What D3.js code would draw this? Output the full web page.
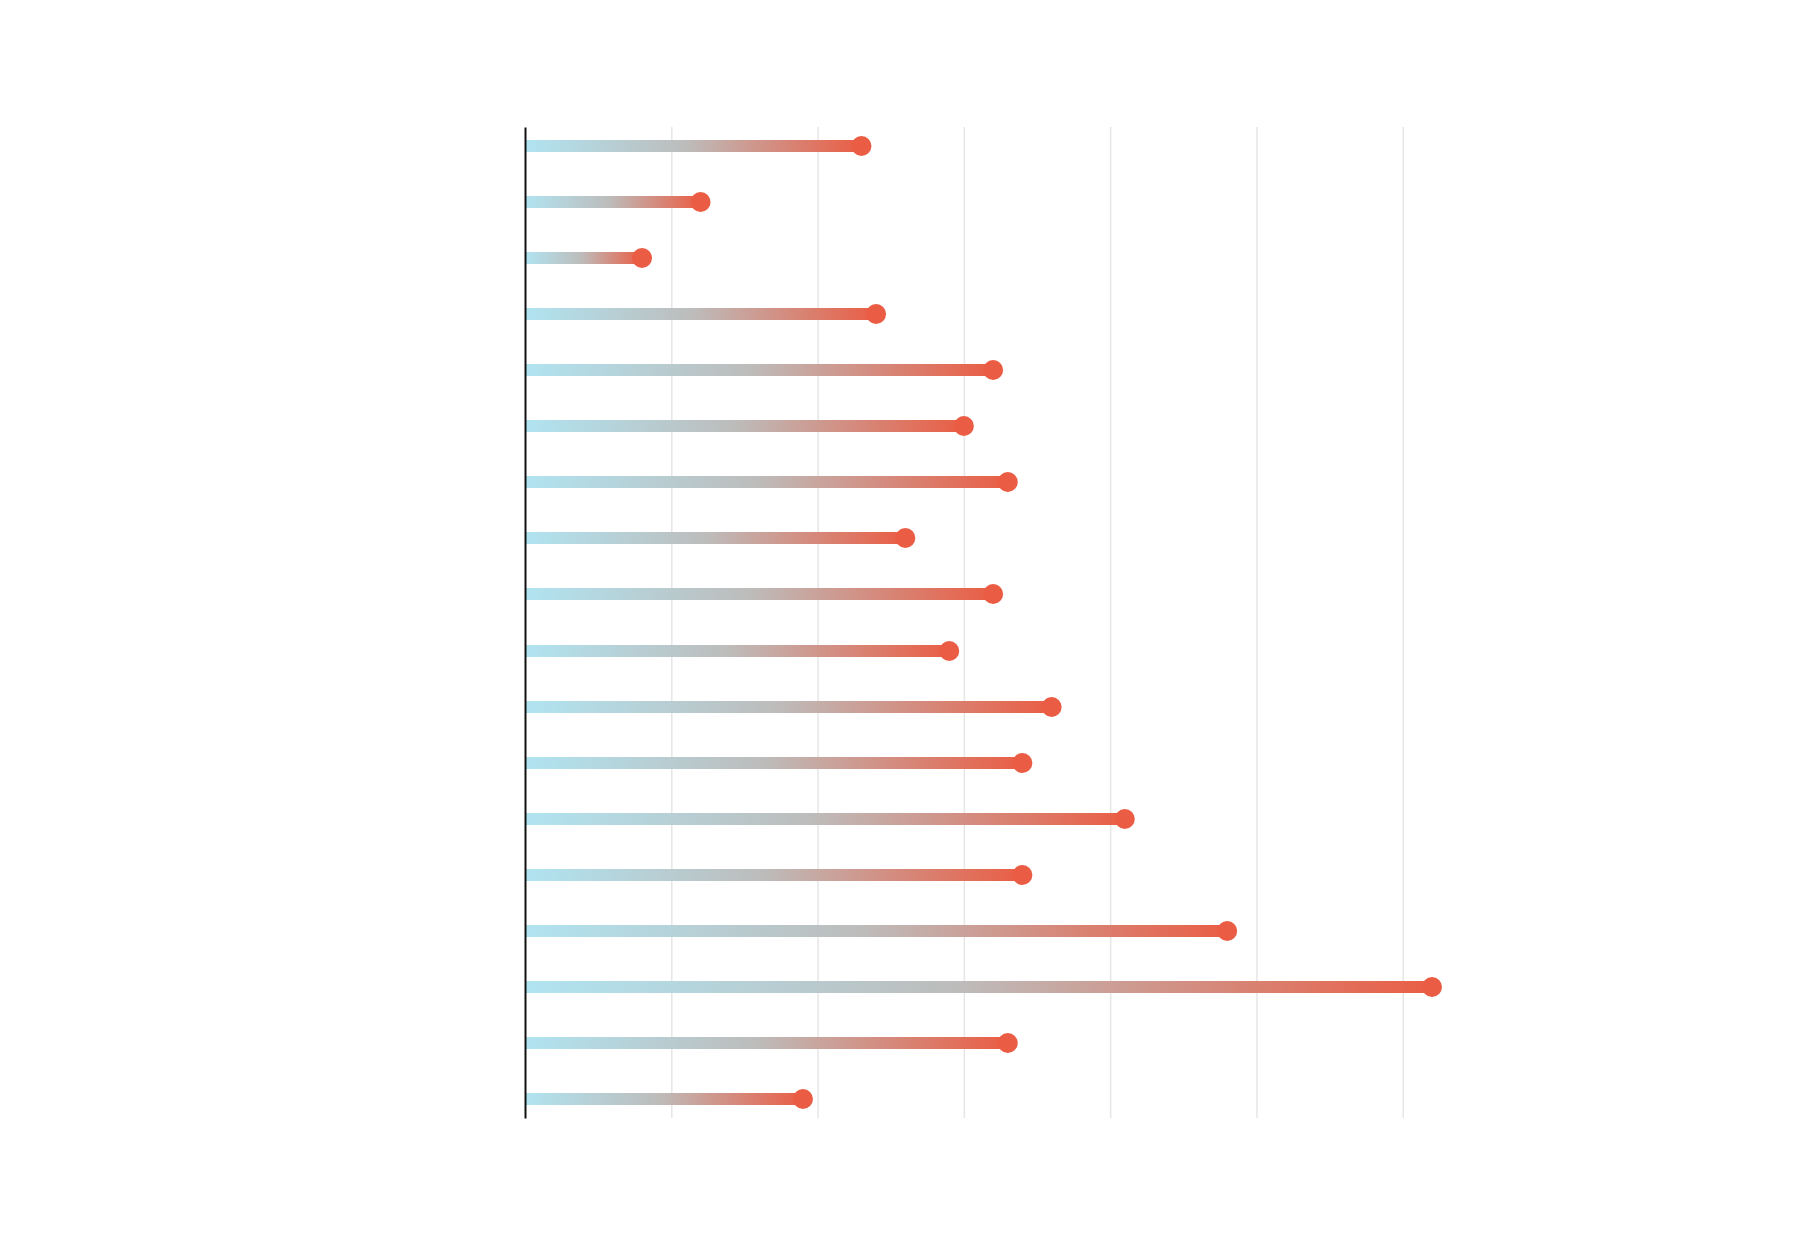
<!DOCTYPE html>
<html>
<head>
<meta charset="utf-8">
<script src="https://cdn.jsdelivr.net/npm/d3@7"></script>
<style>
  body { margin: 0; background: #fff; }
  svg { display: block; }
</style>
</head>
<body>
<div id="chart"></div>
<script>
// data (no labels are shown in it)
const categories = ["c1", "c2", "c3", "c4", "c5", "c6", "c7", "c8", "c9",
                    "c10", "c11", "c12", "c13", "c14", "c15", "c16", "c17", "c18"];
const values = [2.3, 1.2, 0.8, 2.4, 3.2, 3.0, 3.3, 2.6, 3.2,
                2.9, 3.6, 3.4, 4.1, 3.4, 4.8, 6.2, 3.3, 1.9];
const xTicks = [1, 2, 3, 4, 5, 6];

const config = {
  width: 1800,
  height: 1250,
  margin: {top: 127, right: 368, bottom: 132, left: 525}
};

const data = categories.map((c, i) => ({name: c, value: values[i]}));

const width = config.width - config.margin.left - config.margin.right;
const height = config.height - config.margin.top - config.margin.bottom;

const svg = d3.select('#chart').append('svg')
    .attr('width', config.width)
    .attr('height', config.height);

const defs = svg.append('defs');
const grad = defs.append('linearGradient')
    .attr('id', 'lolliGrad')
    .attr('x1', '0%').attr('x2', '100%')
    .attr('y1', '0%').attr('y2', '0%');
grad.append('stop').attr('offset', '0%').attr('stop-color', '#b0e4f1');
grad.append('stop').attr('offset', '48%').attr('stop-color', '#bdbcbb');
grad.append('stop').attr('offset', '100%').attr('stop-color', '#ea5d44');

const g = svg.append('g')
    .attr('transform', `translate(${config.margin.left},${config.margin.top})`);

const xScale = d3.scaleLinear()
    .domain([0, d3.max(values)])
    .range([0, width]);

const yScale = d3.scalePoint()
    .domain(categories)
    .range([0, height])
    .padding(0.33);

const yPos = d => Math.round(yScale(d.name));

// gridlines
g.append('g')
    .attr('class', 'grid')
    .attr('transform', `translate(0,${height})`)
    .call(d3.axisBottom(xScale).tickValues(xTicks).tickSize(-height).tickFormat(''))
    .call(gg => gg.select('.domain').remove())
    .call(gg => gg.selectAll('.tick line')
        .attr('stroke', '#e6e6e6')
        .attr('stroke-width', 1.5));

// stems
g.selectAll('.stem')
    .data(data)
  .enter().append('rect')
    .attr('class', 'stem')
    .attr('x', xScale(0))
    .attr('y', d => yPos(d) - 6)
    .attr('width', d => xScale(d.value) - xScale(0))
    .attr('height', 12)
    .style('fill', 'url(#lolliGrad)');

// heads
g.selectAll('.dot')
    .data(data)
  .enter().append('circle')
    .attr('class', 'dot')
    .attr('cx', d => xScale(d.value))
    .attr('cy', d => yPos(d))
    .attr('r', 10)
    .style('fill', '#ea5d44');

// left axis line
g.append('g')
    .call(d3.axisLeft(yScale).tickSize(0).tickFormat(''))
    .call(gg => gg.select('.domain')
        .attr('stroke', '#111')
        .attr('stroke-width', 2));
</script>
</body>
</html>
